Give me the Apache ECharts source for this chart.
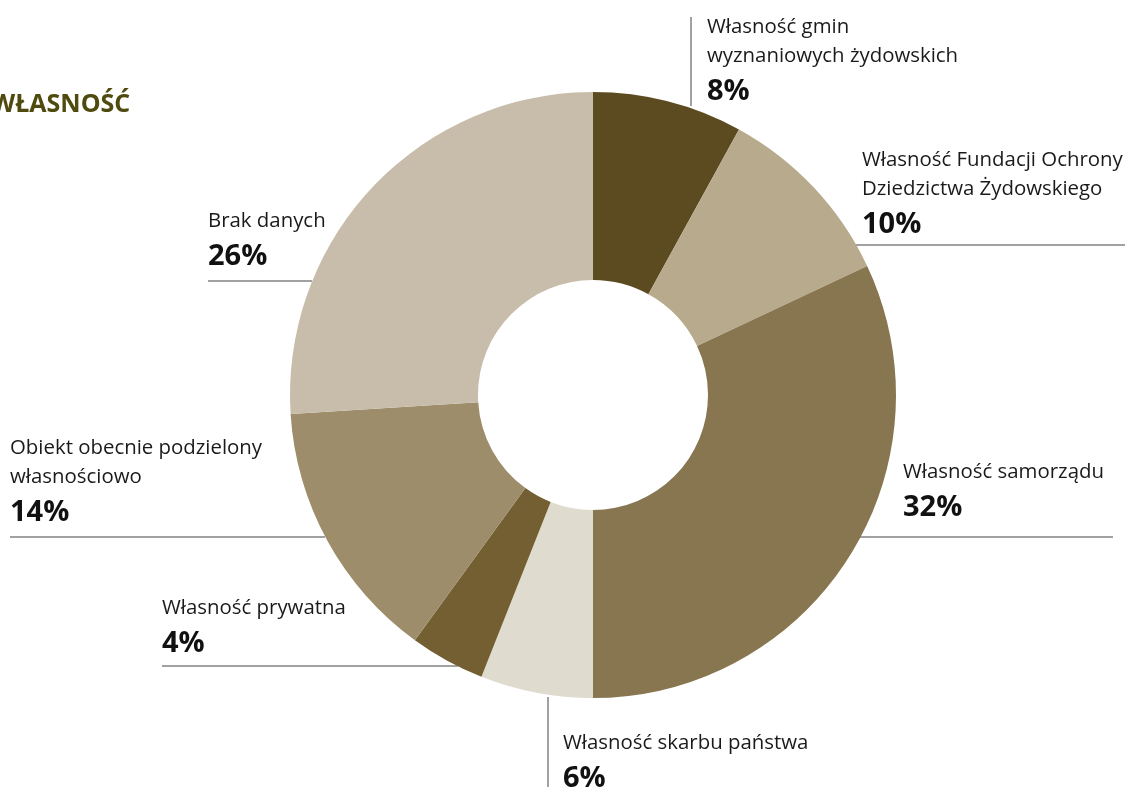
<!DOCTYPE html>
<html>
<head>
<meta charset="utf-8">
<script src="https://cdn.jsdelivr.net/npm/echarts@6/dist/echarts.min.js"></script>
<style>html,body{margin:0;padding:0;background:#fff}#c{width:1125px;height:789px}</style>
</head>
<body>
<div id="c"></div>
<script>
const categories = [
  'Własność gmin\nwyznaniowych żydowskich',
  'Własność Fundacji Ochrony\nDziedzictwa Żydowskiego',
  'Własność samorządu',
  'Własność skarbu państwa',
  'Własność prywatna',
  'Obiekt obecnie podzielony\nwłasnościowo',
  'Brak danych'
];
const values = [8, 10, 32, 6, 4, 14, 26];
const colors = ['#5c4b20', '#b8ab8d', '#877650', '#dfdbce', '#735f31', '#9e8d6a', '#c8bdab'];
const titleText = 'WŁASNOŚĆ';

const labelPos = [
  {x: 707, y: 13, line: [[691, 17], [691, 106]]},
  {x: 862, y: 146, line: [[855, 245], [1125, 245]]},
  {x: 903, y: 458, line: [[858, 537], [1113, 537]]},
  {x: 563, y: 729, line: [[548, 697], [548, 787]]},
  {x: 162, y: 594, line: [[162, 666], [458, 666]]},
  {x: 10, y: 434, line: [[10, 537], [325, 537]]},
  {x: 208, y: 207, line: [[208, 281], [312, 281]]}
];

const chart = echarts.init(document.getElementById('c'));
chart.setOption({
  animation: false,
  title: {
    text: titleText, left: -14, top: 87,
    textStyle: {fontFamily: 'Open Sans', fontWeight: 'bold', fontSize: 25, color: '#4f4a0e'}
  },
  series: [{
    type: 'pie',
    center: [593, 395],
    radius: [115, 303],
    startAngle: 90,
    clockwise: true,
    silent: true,
    data: categories.map((c, i) => ({name: c, value: values[i], itemStyle: {color: colors[i]}})),
    label: {
      show: true,
      position: 'outside',
      width: 320,
      overflow: 'none',
      formatter: p => '{n|' + p.name + '}\n{p|' + p.value + '%}',
      rich: {
        n: {fontFamily: 'Open Sans', fontSize: 20.4, lineHeight: 29, color: '#1a1a1a'},
        p: {fontFamily: 'Open Sans', fontSize: 29, fontWeight: 'bold', lineHeight: 42, color: '#111'}
      }
    },
    labelLine: {show: true, lineStyle: {color: '#444', width: 1}},
    labelLayout: params => {
      const lp = labelPos[params.dataIndex];
      return {x: lp.x, y: lp.y, align: 'left', verticalAlign: 'top', labelLinePoints: lp.line};
    }
  }]
});
</script>
</body>
</html>
